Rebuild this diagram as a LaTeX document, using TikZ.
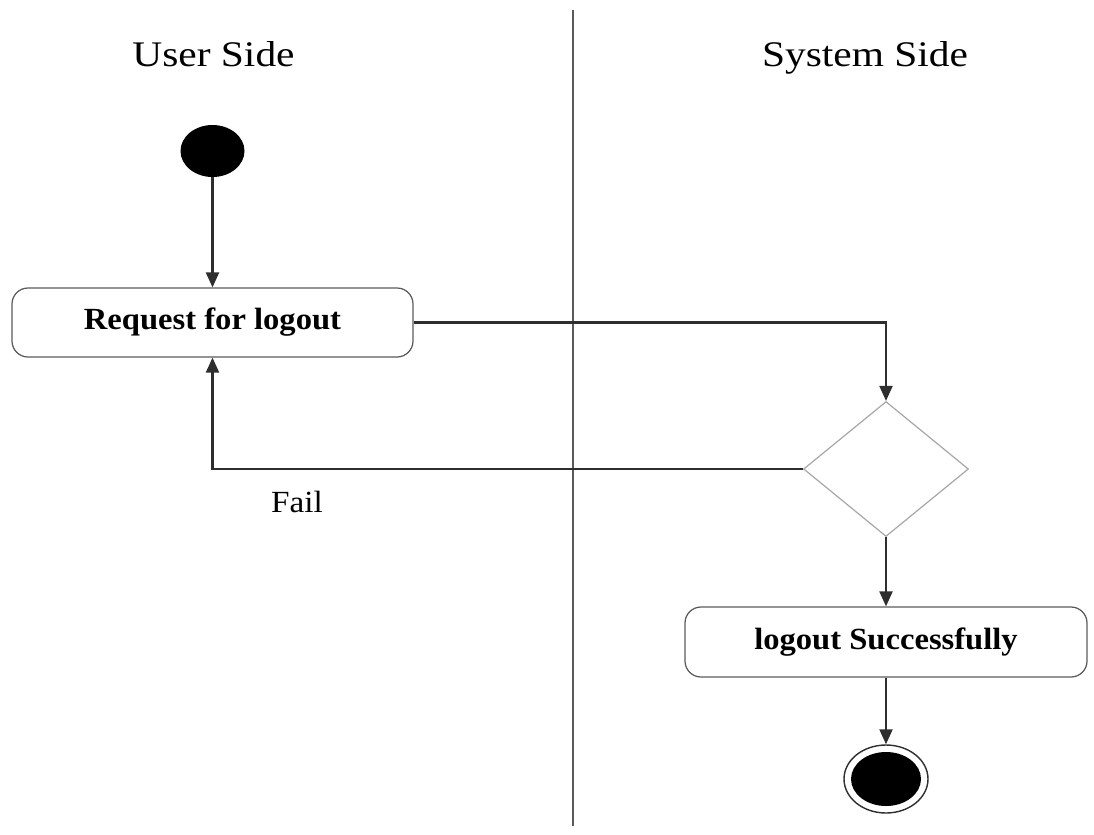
\documentclass[tikz,border=0pt]{standalone}
\usepackage{fontspec}
\setmainfont{Liberation Serif}
\usetikzlibrary{shapes.geometric,arrows.meta}
\definecolor{linec}{HTML}{2E2E2E}
\definecolor{boxc}{HTML}{5A5A5A}
\definecolor{diac}{HTML}{A8A8A8}
\tikzset{
  flow/.style={draw=linec, line width=1.2pt, -{Triangle[length=0.3cm,width=0.26cm]}},
  actbox/.style={draw=boxc, line width=0.7pt, rounded corners=0.32cm, inner sep=0pt},
  boxtext/.style={font=\fontsize{17.5pt}{20pt}\selectfont\bfseries, xscale=1.06, inner sep=0pt},
  title/.style={font=\fontsize{20.5pt}{24pt}\selectfont, xscale=1.15, anchor=base, inner sep=0pt},
  lbl/.style={font=\fontsize{17.5pt}{20pt}\selectfont, xscale=1.08, anchor=base, inner sep=0pt},
  dot/.style={ellipse, fill=black, draw=none, inner sep=0pt},
}
\begin{document}
\begin{tikzpicture}
\useasboundingbox (0,0) rectangle (21.88,-16.68);
% swimlane divider
\coordinate (ltop) at (11.46,-0.2);
\coordinate (lbot) at (11.46,-16.52);
\draw[boxc, line width=1.1pt] (ltop) -- (lbot);
% titles
\node[title] (tuser) at (4.27,-1.32) {User Side};
\node[title] (tsys) at (17.3,-1.32) {System Side};
% nodes
\node[dot, minimum width=1.28cm, minimum height=1.04cm] (start) at (4.25,-3.02) {};
\node[actbox, minimum width=8.02cm, minimum height=1.38cm] (req) at (4.25,-6.45) {};
\node[boxtext] (reqt) at (req.center) {Request for logout};
\node[diamond, draw=diac, line width=0.7pt, inner sep=0pt, minimum width=3.3cm, minimum height=2.7cm] (dec) at (17.72,-9.38) {};
\node[actbox, minimum width=8.04cm, minimum height=1.4cm] (succ) at (17.72,-12.84) {};
\node[boxtext] (succt) at (succ.center) {logout Successfully};
\node[ellipse, draw=linec, line width=0.8pt, fill=white, inner sep=0pt, minimum width=1.68cm, minimum height=1.36cm] (endo) at (17.72,-15.58) {};
\node[dot, minimum width=1.40cm, minimum height=1.08cm] (endi) at (endo.center) {};
% connectors
\draw[flow] (start) -- (req.north);
\draw[flow] (req.east) -| (dec.north);
\draw[flow] (dec.west) -| (req.south);
\draw[flow] (dec.south) -- (succ.north);
\draw[flow] (succ.south) -- (endo.north);
% label
\node[lbl] (fail) at (5.94,-10.24) {Fail};
\end{tikzpicture}
\end{document}
